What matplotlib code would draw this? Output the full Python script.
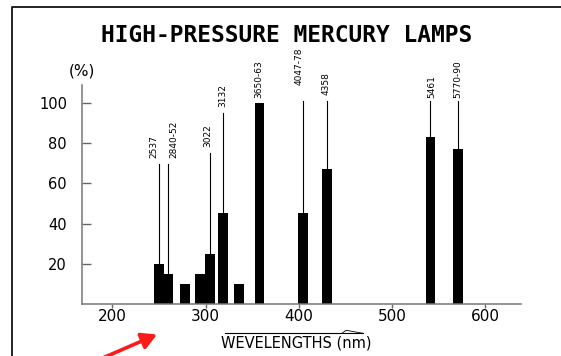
import matplotlib
matplotlib.use("Agg")
import matplotlib.pyplot as plt
from matplotlib.lines import Line2D

# %%
# data
wavelengths = [250, 260, 278, 294, 304.5, 319, 336, 358, 405, 430, 541.5, 571]
intensity = [20, 15, 10, 15, 25, 45, 10, 100, 45, 67, 83, 77]
line_labels = ['2537', '2840-52', '', '', '3022', '3132', '', '3650-63',
               '4047-78', '4358', '5461', '5770-90']
line_tops = [69.6, 69.6, None, None, 75, 95, None, None, 101, 101, 101, 101]

x_ticks = [200, 300, 400, 500, 600]
y_ticks = [20, 40, 60, 80, 100]
y_tick_labels = ['20', '40', '60', '80', '100']

# where each rotated label sits (x centre, bottom), data units
label_x = [244, 266, None, None, 302.4, 318, None, 357.5, 400.2, 429.7, 542.5, 570.4]
label_y = [72.7, 72.7, None, None, 78.2, 98.2, None, 102.6, 109.1, 104.1, 102.5, 102.6]

W, H = 561, 356

# %%
fig = plt.figure(figsize=(W / 100, H / 100), dpi=100)
fig.patch.set_facecolor('white')


def fx(px):
    return px / W


def fy(py):
    return 1 - py / H


ax = fig.add_axes([fx(81.7), fy(303.8), fx(521) - fx(81.7), fy(85) - fy(303.8)])
ax.bar(wavelengths, intensity, width=10.5, color='black', edgecolor='none')

for x, top, h, lab, lx, ly in zip(wavelengths, line_tops, intensity,
                                  line_labels, label_x, label_y):
    if top is not None:
        ax.plot([x, x], [h, top], color='black', lw=0.8, clip_on=False)
    if lab:
        ax.text(lx, ly, lab, rotation=90, ha='center', va='bottom',
                family=['Liberation Sans Narrow', 'DejaVu Sans'],
                fontsize=6.5, clip_on=False)

ax.set_xlim(167, 638.7)
ax.set_ylim(0, 109)
ax.set_xticks(x_ticks)
ax.set_yticks(y_ticks)
ax.set_yticklabels(y_tick_labels)

for s in ['top', 'right']:
    ax.spines[s].set_visible(False)
for s in ['left', 'bottom']:
    ax.spines[s].set_color('#777777')
    ax.spines[s].set_linewidth(1.1)

ax.tick_params(axis='x', direction='out', length=3, width=1, color='#666666',
               pad=0.5, labelsize=11)
ax.tick_params(axis='y', direction='in', length=6.5, width=1, color='#666666',
               pad=10.5, labelsize=10.5)

# title and axis captions
fig.text(fx(286.5), fy(35.5), 'HIGH-PRESSURE MERCURY LAMPS', ha='center', va='center',
         family='DejaVu Sans Mono', fontweight='bold', fontsize=16.5)
fig.text(fx(82), fy(71.5), '(%)', ha='center', va='center', fontsize=11)
fig.text(fx(296.5), fy(343.5), 'WEVELENGTHS (nm)', ha='center', va='center', fontsize=10.5)

# little arrow line over the x caption
fig.add_artist(Line2D([fx(225), fx(363)], [fy(333.3), fy(333.3)], color='black', lw=0.8))
fig.add_artist(Line2D([fx(342), fx(346), fx(363)], [fy(333.3), fy(330.3), fy(333.3)],
                      color='black', lw=0.6))

# frame
fig.add_artist(Line2D([fx(12), fx(12), fx(570)], [fy(360), fy(7.3), fy(7.3)],
                      color='black', lw=1.2))

# red arrow
fig.add_artist(matplotlib.patches.FancyArrowPatch(
    (fx(98), fy(360)), (fx(157), fy(334.5)), transform=fig.transFigure,
    arrowstyle='-|>,head_length=9,head_width=5', mutation_scale=1,
    color='#ff1a1a', lw=2.6, shrinkA=0, shrinkB=0))

fig.savefig('out.png', dpi=100, facecolor='white')
